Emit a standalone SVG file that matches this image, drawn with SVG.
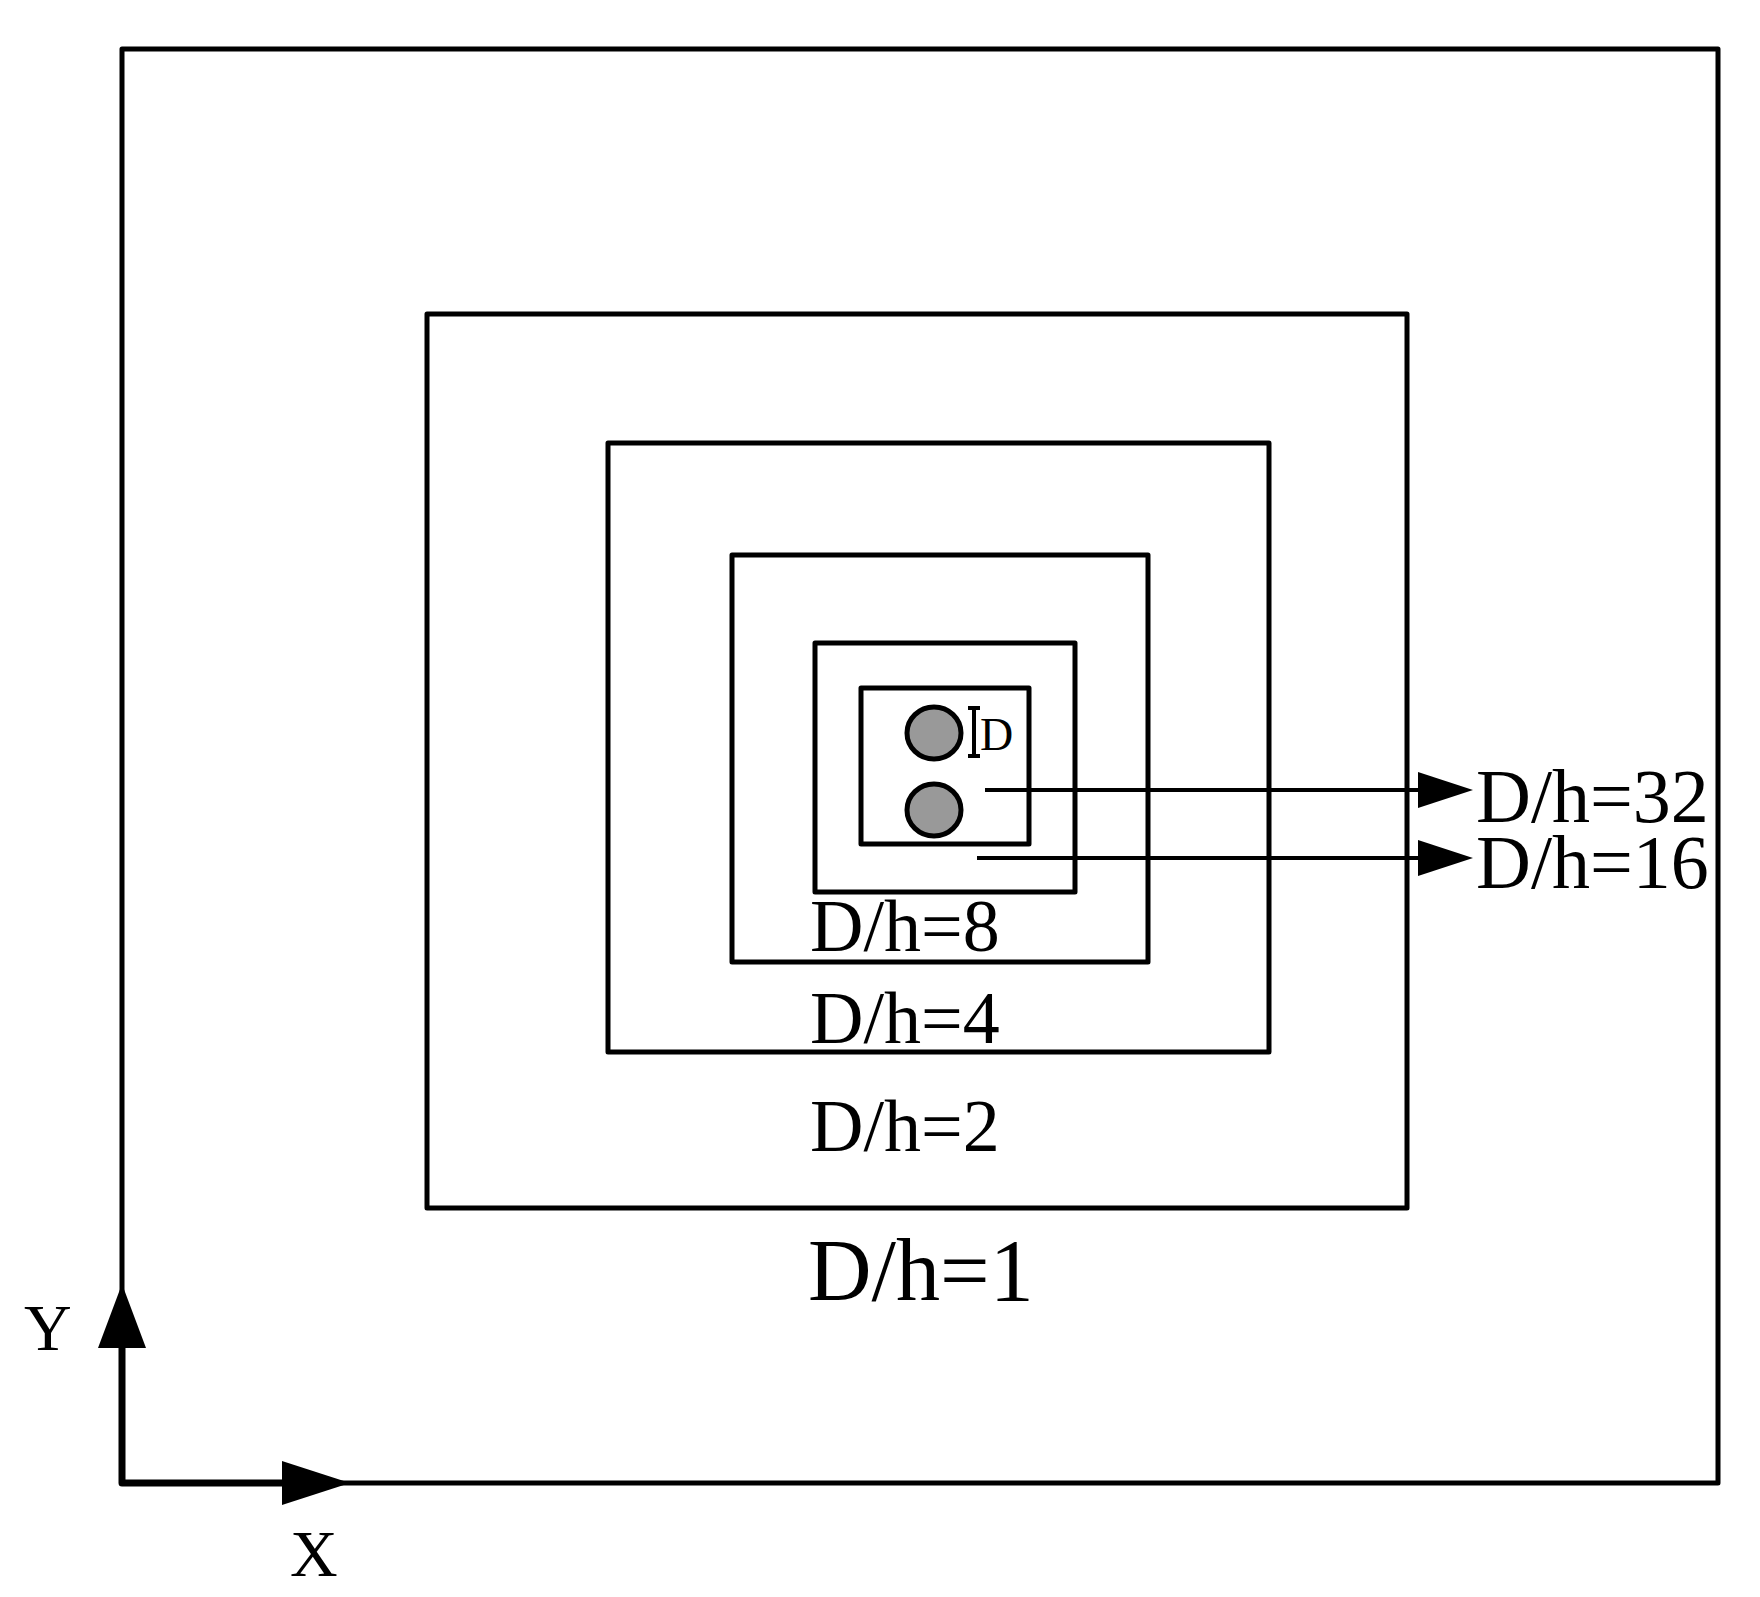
<svg xmlns="http://www.w3.org/2000/svg" width="1760" height="1597" viewBox="0 0 1760 1597">
<style>
.r{fill:none;stroke:#000;stroke-width:5;stroke-linejoin:round}
.t{font-family:"Liberation Serif",serif;fill:#000}
.c{fill:#999;stroke:#000;stroke-width:5}
.ln{stroke:#000;stroke-width:4;fill:none}
</style>
<rect width="1760" height="1597" fill="#fff"/>
<g id="box1"><rect class="r" x="122" y="49" width="1596" height="1434"/><text class="t" x="808" y="1300" font-size="88">D/h=1</text></g>
<g id="box2"><rect class="r" x="427" y="314" width="980" height="894"/><text class="t" x="810" y="1151" font-size="74">D/h=2</text></g>
<g id="box4"><rect class="r" x="608" y="443" width="661" height="609"/><text class="t" x="810" y="1043" font-size="74">D/h=4</text></g>
<g id="box8"><rect class="r" x="732" y="555" width="416" height="407"/><text class="t" x="810" y="951" font-size="74">D/h=8</text></g>
<g id="box16"><rect class="r" x="815" y="643" width="260" height="249"/></g>
<g id="box32"><rect class="r" x="861" y="688" width="168" height="156"/></g>
<g id="cyl1"><ellipse class="c" cx="934" cy="733" rx="27" ry="26"/></g>
<g id="cyl2"><ellipse class="c" cx="934" cy="810" rx="27" ry="26"/></g>
<g id="dim"><path class="ln" d="M974 708V756M968 708H980M968 756H980"/><text class="t" x="980" y="750" font-size="46">D</text></g>
<g id="connectors">
<path class="ln" d="M985 790H1420"/><polygon points="1418,772 1473,790 1418,808"/>
<path class="ln" d="M977 858H1420"/><polygon points="1418,840 1473,858 1418,876"/>
<path d="M122 1348V1483H290" fill="none" stroke="#000" stroke-width="7" stroke-linejoin="round"/>
<polygon points="98,1348 122,1284 146,1348"/>
<polygon points="282,1461 350,1483 282,1505"/>
</g>
<text class="t" x="1476" y="822" font-size="76">D/h=32</text>
<text class="t" x="1476" y="888" font-size="76">D/h=16</text>
<text class="t" x="24" y="1350" font-size="66">Y</text>
<text class="t" x="290" y="1576" font-size="66">X</text>
</svg>
